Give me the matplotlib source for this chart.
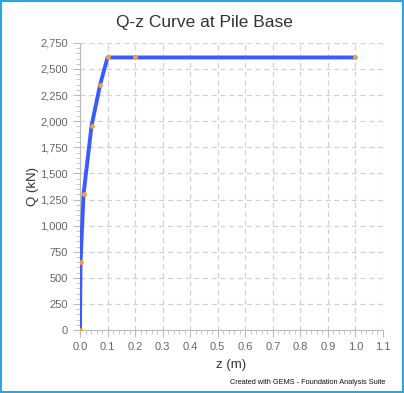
import matplotlib
matplotlib.use('Agg')
import matplotlib.pyplot as plt
from matplotlib.ticker import MultipleLocator, FuncFormatter
from matplotlib.patches import Rectangle

plt.rcParams['font.family'] = ['Liberation Sans', 'DejaVu Sans']

# --- Data (Q-z curve at pile base) ---
z_vals = [0.0, 0.002, 0.013, 0.042, 0.073, 0.1, 0.2, 1.0]
q_vals = [0, 652, 1305, 1957, 2349, 2610, 2610, 2610]

title_text = 'Q-z Curve at Pile Base'
x_label = 'z (m)'
y_label = 'Q (kN)'
footer = 'Created with GEMS - Foundation Analysis Suite'

fig = plt.figure(figsize=(4.04, 3.93), dpi=100)
ax = fig.add_axes([0.198, 0.160, 0.750, 0.731])

ax.plot(z_vals, q_vals, color='#3a5cff', lw=2.8, solid_capstyle='round', zorder=3)
ax.scatter(z_vals, q_vals, s=6, color='#f0a040', zorder=4)

ax.set_xlim(0, 1.1)
ax.set_ylim(0, 2750)
ax.xaxis.set_major_locator(MultipleLocator(0.1))
ax.xaxis.set_minor_locator(MultipleLocator(0.02))
ax.yaxis.set_major_locator(MultipleLocator(250))
ax.yaxis.set_minor_locator(MultipleLocator(50))
ax.xaxis.set_major_formatter(FuncFormatter(lambda v, p: '%.1f' % v))
ax.yaxis.set_major_formatter(FuncFormatter(lambda v, p: '{:,.0f}'.format(v)))

ax.grid(True, which='major', color='#d0d0d0', ls=(0, (4, 3)), lw=0.9)
for s in ['top', 'right']:
    ax.spines[s].set_visible(False)
for s in ['left', 'bottom']:
    ax.spines[s].set_color('#bbbbbb')
ax.tick_params(which='major', length=5, color='#bbbbbb', labelsize=8, labelcolor='#666666')
ax.tick_params(which='minor', length=3, color='#bbbbbb')

ax.set_xlabel(x_label, fontsize=9.5, color='#333333', labelpad=5)
ax.set_ylabel(y_label, fontsize=9.5, color='#333333', labelpad=1)
fig.text(0.505, 0.943, title_text, ha='center', va='center', fontsize=12.5, color='#333333')
fig.text(0.955, 0.026, footer, ha='right', va='center', fontsize=5.3, color='#111111')

# outer frame
fig.patches.append(Rectangle((0.002, 0.002), 0.996, 0.996, transform=fig.transFigure,
                             fill=False, edgecolor='#29a8e0', lw=1.5))

fig.savefig('out.png', dpi=100)
